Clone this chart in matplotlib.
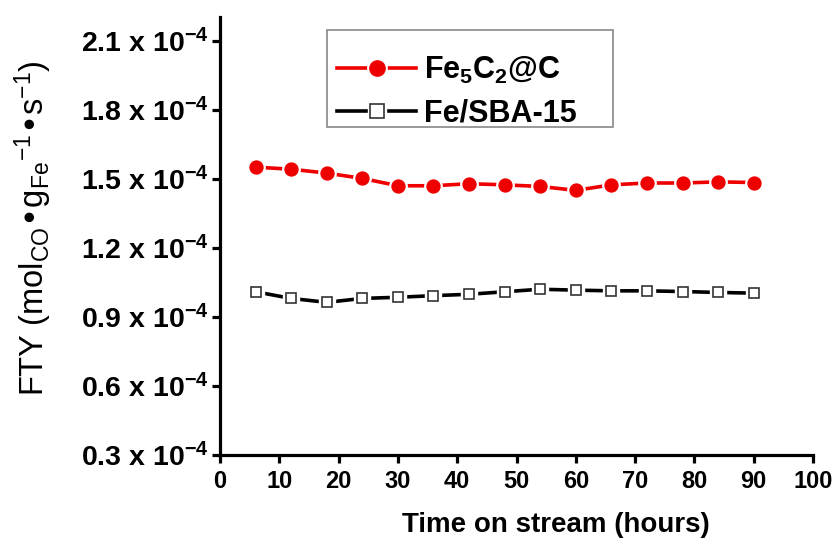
import matplotlib
matplotlib.use("Agg")
import matplotlib.pyplot as plt
from matplotlib.ticker import FixedLocator, FuncFormatter
from matplotlib.lines import Line2D
from matplotlib.patches import Rectangle

plt.rcParams['font.family'] = ['Liberation Sans', 'DejaVu Sans']
plt.rcParams['mathtext.default'] = 'regular'

hours = [6, 12, 18, 24, 30, 36, 42, 48, 54, 60, 66, 72, 78, 84, 90]
fe5c2_c = [1.552, 1.543, 1.526, 1.503, 1.471, 1.471, 1.480, 1.475, 1.468, 1.451,
           1.475, 1.483, 1.483, 1.488, 1.485]
fe_sba15 = [1.010, 0.981, 0.964, 0.981, 0.986, 0.993, 0.999, 1.010, 1.021, 1.017,
            1.014, 1.014, 1.011, 1.007, 1.004]
y_ticks = [0.3, 0.6, 0.9, 1.2, 1.5, 1.8, 2.1]
x_ticks = [0, 10, 20, 30, 40, 50, 60, 70, 80, 90, 100]
scale = 1e-4

RED = '#ee0000'
W, H = 838, 546
fig = plt.figure(figsize=(W/100, H/100), dpi=100)
ax = fig.add_axes([220/W, 1-455/H, (813-220)/W, (455-17)/H])

ys_red = [v*scale for v in fe5c2_c]
ys_blk = [v*scale for v in fe_sba15]

# lines
ax.plot(hours, ys_red, color=RED, lw=2.6, zorder=2)
ax.plot(hours, ys_blk, color='black', lw=2.6, zorder=2)
# white gaps around markers
ax.plot(hours, ys_red, ls='none', marker='o', ms=12.5, mfc='white', mec='white', zorder=3)
ax.plot(hours, ys_blk, ls='none', marker='s', ms=11.5, mfc='white', mec='white', zorder=3)
# markers
ax.plot(hours, ys_red, ls='none', marker='o', ms=9.3, mfc=RED, mec=RED, zorder=4)
ax.plot(hours, ys_blk, ls='none', marker='s', ms=7.6, mfc='white', mec='#333333', mew=1.2, zorder=4)

ax.set_xlim(0, 100)
ax.set_ylim(0.3*scale, 2.205*scale)
for s in ['top', 'right']:
    ax.spines[s].set_visible(False)
for s in ['left', 'bottom']:
    ax.spines[s].set_linewidth(2.3)

ax.xaxis.set_major_locator(FixedLocator(x_ticks))
ax.yaxis.set_major_locator(FixedLocator([t*scale for t in y_ticks]))
ax.yaxis.set_major_formatter(FuncFormatter(lambda v, p: f"{v/scale:.1f} x 10$^{{-4}}$"))
ax.tick_params(axis='both', direction='out', width=2.3, length=6)
ax.tick_params(axis='y', labelsize=20.5, pad=2)
ax.tick_params(axis='x', labelsize=17, pad=5)
for lab in ax.get_yticklabels() + ax.get_xticklabels():
    lab.set_fontweight('bold')

ax.set_xlabel('Time on stream (hours)', fontsize=20, fontweight='bold')
ax.xaxis.set_label_coords((556-220)/593, -(512-455)/438)
fig.text(33/W, 1-228/H, r'FTY (mol$_{CO}$•g$_{Fe}$$^{-1}$•s$^{-1}$)', rotation=90,
         fontsize=23.5, ha='center', va='center')

# legend
h_red = (Line2D([], [], color=RED, lw=2.6),
         Line2D([], [], ls='none', marker='o', ms=14, mfc='white', mec='white'),
         Line2D([], [], ls='none', marker='o', ms=11, mfc=RED, mec=RED))
h_blk = (Line2D([], [], color='black', lw=2.6),
         Line2D([], [], ls='none', marker='s', ms=13, mfc='white', mec='white'),
         Line2D([], [], ls='none', marker='s', ms=9.5, mfc='white', mec='#333333', mew=1.2))
leg = ax.legend([h_red, h_blk], ['Fe$_5$C$_2$@C', 'Fe/SBA-15'],
                loc='upper left', bbox_to_anchor=((337-220)/593, (455-55)/438),
                frameon=False, borderaxespad=0, borderpad=0,
                prop={'weight': 'bold', 'size': 22}, handlelength=2.6,
                labelspacing=0.4, handletextpad=0.25)
fig.patches.append(Rectangle((327/W, 1-127/H), (613-327)/W, (127-30)/H,
                             transform=fig.transFigure, fill=False,
                             edgecolor='#888888', lw=1.2))

fig.savefig('out.png', dpi=100)
